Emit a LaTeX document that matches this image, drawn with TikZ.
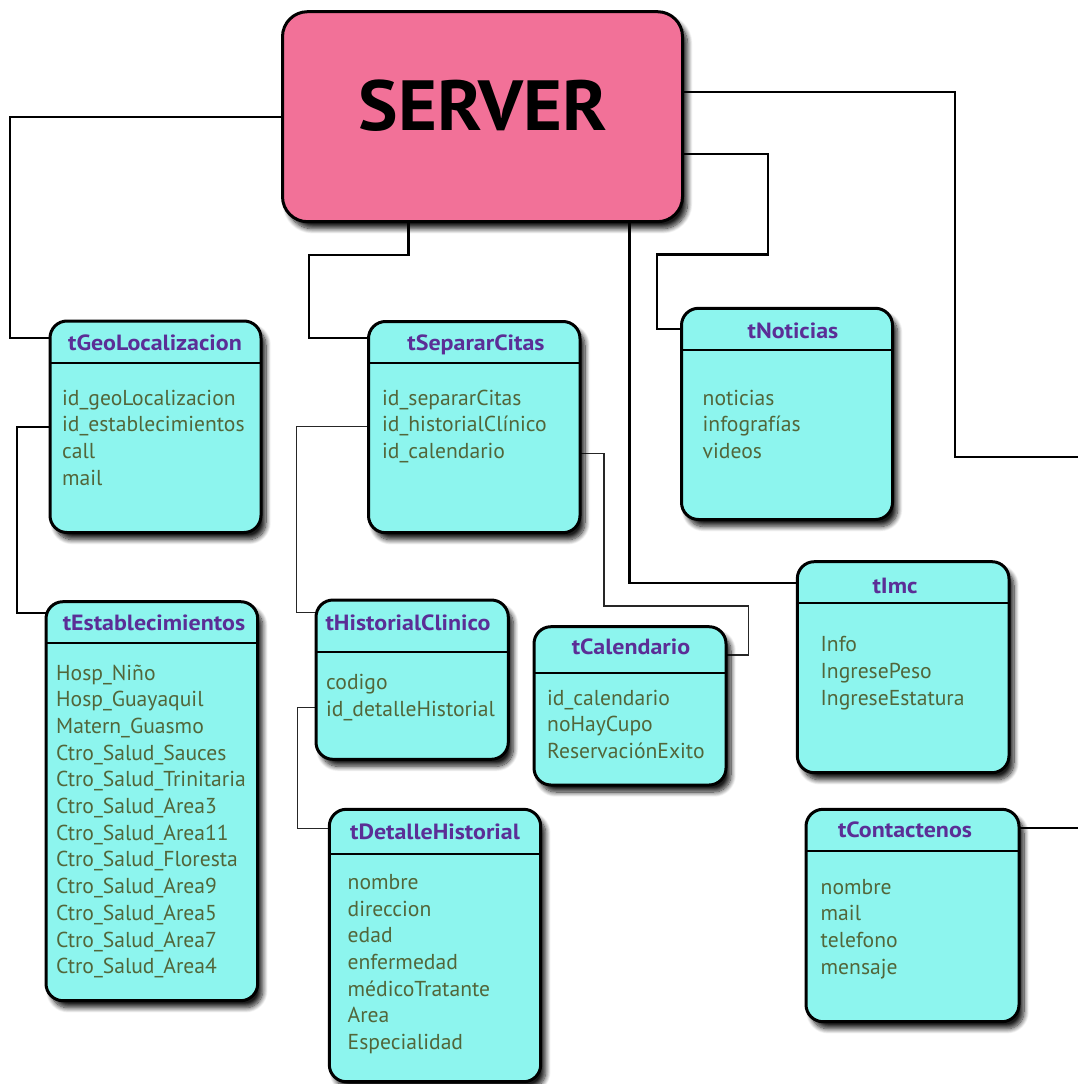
\documentclass[tikz,border=0pt]{standalone}
\usepackage{fontspec}
\setmainfont{PT Sans}
\newfontfamily\ttlfont[FakeStretch=1.09]{PT Sans Bold}
\newfontfamily\srvfont[FakeStretch=1.05]{PT Sans Bold}
\usetikzlibrary{shadows.blur,backgrounds}
\definecolor{cyanfill}{HTML}{8DF5EE}
\definecolor{pinkfill}{HTML}{F27198}
\definecolor{titlecol}{HTML}{5B2E96}
\definecolor{fieldcol}{HTML}{52663A}
\newcommand{\fieldlist}[4]{\foreach \ftext [count=\i] in {#4} {\node[fld] (#1-\i) at (#2,{#3+(\i-1)*26.7}) {\ftext};}}
\newcommand{\tbox}[5]{\node[tbl, minimum width={#4-#2}, minimum height={#5-#3}] (#1) at (#2,#3) {};}
\tikzset{
  tbl/.style={draw=black, line width=3pt, fill=cyanfill, rounded corners=17pt,
    inner sep=0pt, outer sep=0pt, anchor=north west,
    blur shadow={shadow xshift=5pt, shadow yshift=-7pt, shadow blur radius=5pt, shadow opacity=90, shadow blur steps=10}},
  srv/.style={tbl, fill=pinkfill, rounded corners=25pt},
  ttl/.style={font=\ttlfont\fontsize{22}{22}\selectfont, text=titlecol, anchor=base, inner sep=0pt},
  fld/.style={font=\fontsize{21.6}{22}\selectfont, text=fieldcol, anchor=base west, inner sep=0pt},
  divider/.style={line width=2pt, black},
  conn/.style={line width=2.2pt, black},
  thinconn/.style={line width=1.2pt, black!85},
}
\begin{document}
\begin{tikzpicture}[x=1pt, y=-1pt]
\useasboundingbox (0,0) rectangle (1077,1084);

% boxes
\node[srv, minimum width=400, minimum height=210] (server) at (282.5,11.7) {};
\node[font=\srvfont\fontsize{71}{71}\selectfont, anchor=base, inner sep=0pt] (srvlabel) at (483,130.7) {SERVER};
\tbox{geo}{50}{321}{261}{532.5}
\tbox{sep}{368.5}{321.5}{580}{532.7}
\tbox{not}{681.5}{308.3}{892.5}{519.5}
\tbox{est}{46}{601.7}{257.7}{1000.7}
\tbox{his}{316}{600}{508.3}{759.3}
\tbox{cal}{534}{626.7}{726}{785}
\tbox{det}{329.3}{809.3}{540.7}{1081.7}
\tbox{imc}{797.3}{561.7}{1009}{772.7}
\tbox{con}{806}{809.3}{1019}{1021.7}

% connector coordinates
\coordinate (c1) at (10,337.7);
\coordinate (c2a) at (408.5,255);
\coordinate (c2b) at (309,337.7);
\coordinate (c3) at (629.5,582.7);
\coordinate (c4a) at (768.3,154);
\coordinate (c4m) at (768.3,254.5);
\coordinate (c4b) at (657.3,329.3);
\coordinate (c5a) at (954.7,91.7);
\coordinate (c5b) at (954.7,457);
\coordinate (c5e) at (1085,457);
\coordinate (c6) at (1085,828.3);
\coordinate (c7a) at (17.3,426.7);
\coordinate (c7b) at (17.3,612.7);
\coordinate (c8a) at (296.7,426.7);
\coordinate (c8b) at (296.7,612.7);
\coordinate (c9a) at (604,453.3);
\coordinate (c9b) at (604,606);
\coordinate (c9c) at (748.3,606);
\coordinate (c9d) at (748.3,655);
\coordinate (c10a) at (297.5,707.3);
\coordinate (c10b) at (297.5,828.3);

\begin{scope}[on background layer]
\draw[conn] (server.west) -| (c1) -- (c1 -| geo.west);
\draw[conn] (c2a |- server.south) -- (c2a) -| (c2b) -- (c2b -| sep.west);
\draw[conn] (c3 |- server.south) -- (c3) -- (c3 -| imc.west);
\draw[conn] (c4a -| server.east) -- (c4a) -- (c4m) -| (c4b) -- (c4b -| not.west);
\draw[conn] (c5a -| server.east) -- (c5a) -- (c5b) -- (c5e);
\draw[conn] (c6 -| con.east) -- (c6);
\draw[conn] (c7a -| geo.west) -- (c7a) -- (c7b) -- (c7b -| est.west);
\draw[thinconn] (c8a -| sep.west) -- (c8a) -- (c8b) -- (c8b -| his.west);
\draw[thinconn] (c9a -| sep.east) -- (c9a) -- (c9b) -- (c9c) -- (c9d) -- (c9d -| cal.east);
\draw[thinconn] (c10a -| his.west) -- (c10a) -- (c10b) -- (c10b -| det.west);
\end{scope}

% dividers
\draw[divider] (50,362.7) -- (261,362.7);
\draw[divider] (368.5,362.7) -- (580,362.7);
\draw[divider] (681.5,350) -- (892.5,350);
\draw[divider] (46,642.7) -- (257.7,642.7);
\draw[divider] (316,651.7) -- (508.3,651.7);
\draw[divider] (534,672.7) -- (726,672.7);
\draw[divider] (329.3,854) -- (540.7,854);
\draw[divider] (797.3,602.7) -- (1009,602.7);
\draw[divider] (806,850.7) -- (1019,850.7);

% titles
\node[ttl] (geo-t) at (155,350) {tGeoLocalizacion};
\node[ttl] (sep-t) at (476,350.7) {tSepararCitas};
\node[ttl] (not-t) at (793,338.3) {tNoticias};
\node[ttl] (est-t) at (154,630.7) {tEstablecimientos};
\node[ttl] (his-t) at (408,630) {tHistorialClinico};
\node[ttl] (cal-t) at (631,654) {tCalendario};
\node[ttl] (det-t) at (435,839.3) {tDetalleHistorial};
\node[ttl] (imc-t) at (895,593.3) {tImc};
\node[ttl] (con-t) at (905,837.3) {tContactenos};

% fields
\fieldlist{geo}{62}{405}{id\_geoLocalizacion,id\_establecimientos,call,mail}
\fieldlist{sep}{382}{405}{id\_separarCitas,id\_historialClínico,id\_calendario}
\fieldlist{not}{702.5}{405}{noticias,infografías,videos}
\fieldlist{est}{56}{680}{Hosp\_Niño,Hosp\_Guayaquil,Matern\_Guasmo,Ctro\_Salud\_Sauces,Ctro\_Salud\_Trinitaria,Ctro\_Salud\_Area3,Ctro\_Salud\_Area11,Ctro\_Salud\_Floresta,Ctro\_Salud\_Area9,Ctro\_Salud\_Area5,Ctro\_Salud\_Area7,Ctro\_Salud\_Area4}
\fieldlist{his}{326}{689.3}{codigo,id\_detalleHistorial}
\fieldlist{cal}{547}{705}{id\_calendario,noHayCupo,ReservaciónExito}
\fieldlist{det}{347.5}{889.3}{nombre,direccion,edad,enfermedad,médicoTratante,Area,Especialidad}
\fieldlist{imc}{820.5}{651.7}{Info,IngresePeso,IngreseEstatura}
\fieldlist{con}{820.5}{894}{nombre,mail,telefono,mensaje}
\end{tikzpicture}
\end{document}
